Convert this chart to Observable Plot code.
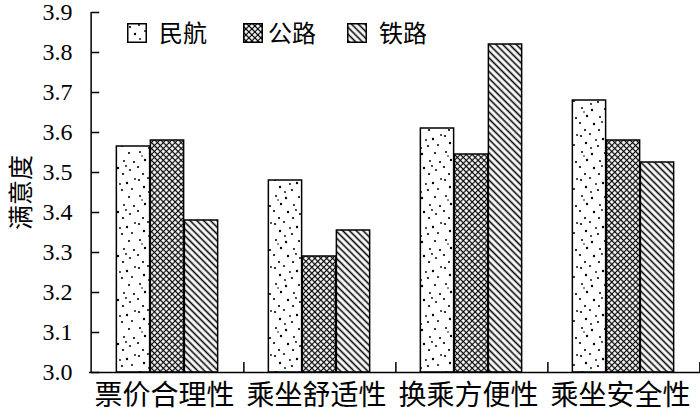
<!DOCTYPE html>
<html>
<head>
<meta charset="utf-8">
<script src="https://cdn.jsdelivr.net/npm/d3@7"></script>
<script src="https://cdn.jsdelivr.net/npm/@observablehq/plot@0.6"></script>
<style>
  html, body { margin: 0; padding: 0; background: #fff; }
  #chart { position: relative; width: 700px; height: 416px; }
  #defs { position: absolute; width: 0; height: 0; overflow: hidden; }
  .legend-swatch { position: absolute; }
  .legend-text { position: absolute; font-family: "Noto Sans CJK SC", sans-serif; font-size: 24px; line-height: 24px; color: #000; white-space: nowrap; }
</style>
</head>
<body>
<svg id="defs" aria-hidden="true">
  <defs>
    <!-- stipple fill -->
    <pattern id="pat-dots" patternUnits="userSpaceOnUse" width="34" height="44">
      <rect width="34" height="44" fill="#fff"/>
      <g fill="#000">
        <circle cx="3" cy="4" r="1.1"/><circle cx="12" cy="2" r="1"/><circle cx="25" cy="7" r="1.2"/>
        <circle cx="30" cy="13" r="1"/><circle cx="8" cy="11" r="1.2"/><circle cx="20" cy="14" r="1.1"/>
        <circle cx="4" cy="20" r="1"/><circle cx="14" cy="22" r="1.2"/><circle cx="27" cy="21" r="1.1"/>
        <circle cx="9" cy="28" r="1.2"/><circle cx="22" cy="29" r="1"/><circle cx="32" cy="30" r="1.1"/>
        <circle cx="2" cy="35" r="1.1"/><circle cx="16" cy="36" r="1.2"/><circle cx="28" cy="38" r="1"/>
        <circle cx="7" cy="42" r="1.1"/><circle cx="21" cy="42" r="1.1"/><circle cx="13" cy="16" r="0.9"/>
        <circle cx="33" cy="3" r="0.9"/><circle cx="18" cy="8" r="0.9"/><circle cx="24" cy="34" r="0.9"/>
        <circle cx="6" cy="24" r="0.8"/>
      </g>
    </pattern>
    <!-- diagonal crosshatch -->
    <pattern id="pat-cross" patternUnits="userSpaceOnUse" width="4.2" height="4.2" patternTransform="rotate(45)">
      <rect width="4.2" height="4.2" fill="#fff"/>
      <path d="M0,2.1H4.2M2.1,0V4.2" stroke="#000" stroke-width="1.1"/>
    </pattern>
    <!-- backslash hatching -->
    <pattern id="pat-hatch" patternUnits="userSpaceOnUse" width="4.8" height="4.8" patternTransform="rotate(-45)">
      <rect width="4.8" height="4.8" fill="#fff"/>
      <path d="M2.4,0V4.8" stroke="#000" stroke-width="1.6"/>
    </pattern>
  </defs>
</svg>
<div id="chart"></div>
<script>
// Satisfaction scores by travel mode and service aspect
const categories = ["票价合理性", "乘坐舒适性", "换乘方便性", "乘坐安全性"];
const series = ["民航", "公路", "铁路"];
const civilAviation = [3.565, 3.48, 3.61, 3.68];
const highway = [3.58, 3.29, 3.545, 3.58];
const railway = [3.38, 3.355, 3.82, 3.525];
const yTicks = [3.0, 3.1, 3.2, 3.3, 3.4, 3.5, 3.6, 3.7, 3.8, 3.9];
const yLabel = "满意度";

const seriesValues = [civilAviation, highway, railway];
const patternIds = ["pat-dots", "pat-cross", "pat-hatch"];

const rows = series.flatMap((s, i) =>
  categories.map((c, j) => ({category: c, series: s, value: seriesValues[i][j]}))
);

const width = 700, height = 416;
const marginLeft = 89, marginRight = 0, marginTop = 12, marginBottom = 44;
const yMin = yTicks[0], yMax = yTicks[yTicks.length - 1];

// grouped bars: each category band holds the three series side by side
const band = (width - marginLeft - marginRight) / categories.length;
const groupPadding = 0.332;
const sub = band * (1 - groupPadding) / series.length;
const offset = band * groupPadding / 2;

const pxPerUnit = (height - marginTop - marginBottom) / (yMax - yMin);
const xTickLen = 10, yTickLen = 9;

const bars = series.map((s, i) =>
  Plot.barY(rows.filter(d => d.series === s), {
    x: "category",
    y1: () => yMin,
    y2: "value",
    fill: `url(#${patternIds[i]})`,
    stroke: "#000",
    strokeWidth: 1.5,
    insetLeft: offset + sub * i,
    insetRight: band - offset - sub * (i + 1)
  })
);

const chart = Plot.plot({
  width, height, marginLeft, marginRight, marginTop, marginBottom,
  style: {fontFamily: "'Liberation Serif', 'Noto Sans CJK SC', serif", color: "#000", background: "#fff"},
  x: {domain: categories, padding: 0},
  y: {domain: [yMin, yMax]},
  marks: [
    ...bars,
    // axis lines
    Plot.ruleY([yMin], {stroke: "#000", strokeWidth: 1.5}),
    Plot.ruleX([categories[0]], {dx: -band / 2, y1: () => yMin, y2: () => yMax, stroke: "#000", strokeWidth: 1.5}),
    // inward ticks on the value axis
    Plot.tickY(yTicks, {y: d => d, x: () => categories[0], insetRight: band - yTickLen, stroke: "#000", strokeWidth: 1.5}),
    // inward ticks at the category band boundaries
    Plot.ruleX(categories, {x: d => d, dx: band / 2, y1: () => yMin, y2: () => yMin + xTickLen / pxPerUnit, stroke: "#000", strokeWidth: 1.5}),
    Plot.axisY({ticks: yTicks, tickFormat: d3.format(".1f"), tickSize: 0, tickPadding: 17, fontSize: 24, label: null}),
    Plot.axisX({tickSize: 0, tickPadding: 13, dx: -3, fontSize: 28, label: null, fontFamily: "'Noto Sans CJK SC', sans-serif"}),
    Plot.text([yLabel], {frameAnchor: "left", textAnchor: "middle", dx: -68, rotate: -90, fontSize: 25, fontFamily: "'Noto Sans CJK SC', sans-serif"})
  ]
});

const container = document.getElementById("chart");
container.appendChild(chart);

// legend drawn inside the plot area
const legendItems = [
  {swatchX: 127, textX: 159},
  {swatchX: 243, textX: 268},
  {swatchX: 347, textX: 379}
];
series.forEach((s, i) => {
  const sw = document.createElementNS("http://www.w3.org/2000/svg", "svg");
  sw.setAttribute("class", "legend-swatch");
  sw.setAttribute("width", 20);
  sw.setAttribute("height", 20);
  sw.style.left = legendItems[i].swatchX + "px";
  sw.style.top = "23px";
  const r = document.createElementNS("http://www.w3.org/2000/svg", "rect");
  r.setAttribute("x", 0.75); r.setAttribute("y", 0.75);
  r.setAttribute("width", 18.5); r.setAttribute("height", 18.5);
  r.setAttribute("fill", `url(#${patternIds[i]})`);
  r.setAttribute("stroke", "#000");
  r.setAttribute("stroke-width", 1.5);
  sw.appendChild(r);
  container.appendChild(sw);
  const t = document.createElement("div");
  t.className = "legend-text";
  t.textContent = s;
  t.style.left = legendItems[i].textX + "px";
  t.style.top = "20px";
  container.appendChild(t);
});
</script>
</body>
</html>
